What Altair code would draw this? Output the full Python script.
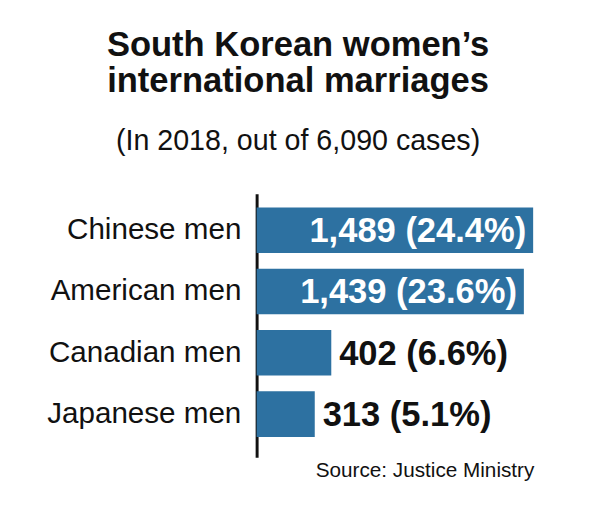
import altair as alt
import pandas as pd

categories = ["Chinese men", "American men", "Canadian men", "Japanese men"]
counts = [1489, 1439, 402, 313]
shares = ["24.4%", "23.6%", "6.6%", "5.1%"]

df = pd.DataFrame({
    "group": categories,
    "count": counts,
    "share": shares,
})
df["label"] = [f"{c:,} ({s})" for c, s in zip(counts, shares)]
df["inside"] = df["count"] > 1000

FONT = "Liberation Sans"
BLUE = "#2d71a1"

y_enc = alt.Y(
    "group:N",
    sort=categories,
    scale=alt.Scale(paddingInner=0.257, paddingOuter=0.277, align=0.4),
    axis=alt.Axis(
        title=None,
        ticks=False,
        labelFontSize=30,
        labelFont=FONT,
        labelColor="#111111",
        labelPadding=16,
        domainColor="#111111",
        domainWidth=3,
        labelLimit=400,
    ),
)

x_scale = alt.Scale(domain=[0, 1700], nice=False, zero=True)

bars = alt.Chart(df).mark_bar(color=BLUE).encode(
    x=alt.X(
        "count:Q",
        scale=x_scale,
        axis=alt.Axis(
            title="Source: Justice Ministry",
            labels=False,
            ticks=False,
            domain=False,
            grid=False,
            titleFont=FONT,
            titleFontSize=21,
            titleFontWeight="normal",
            titleColor="#111111",
            titleAlign="right",
            titleBaseline="alphabetic",
            titleX=281,
            titleY=19,
        ),
    ),
    y=y_enc,
)

inside_text = alt.Chart(df).transform_filter("datum.inside").mark_text(
    align="right", baseline="middle", dx=-7, dy=1, fontSize=35,
    fontWeight="bold", font=FONT, color="white",
).encode(x=alt.X("count:Q", scale=x_scale), y=alt.Y("group:N", sort=categories), text="label:N")

outside_text = alt.Chart(df).transform_filter("!datum.inside").mark_text(
    align="left", baseline="middle", dx=8, dy=1, fontSize=35,
    fontWeight="bold", font=FONT, color="#111111",
).encode(x=alt.X("count:Q", scale=x_scale), y=alt.Y("group:N", sort=categories), text="label:N")

chart = alt.layer(bars, inside_text, outside_text).properties(
    width=320,
    height=267,
    background="white",
    padding={"left": 252, "top": 185, "right": 25, "bottom": 45},
    autosize=alt.AutoSizeParams(type="none"),
    title=alt.TitleParams(
        text=["South Korean women\u2019s", "international marriages"],
        subtitle="(In 2018, out of 6,090 cases)",
        font=FONT,
        fontSize=35,
        fontWeight="bold",
        color="#111111",
        lineHeight=37,
        subtitleFont=FONT,
        subtitleFontSize=29,
        subtitleColor="#111111",
        subtitlePadding=29,
        anchor="middle",
        frame="group",
        dx=-118,
        offset=38,
    ),
).configure_view(strokeWidth=0, stroke=None)

chart.save("out.html", embed_options={"renderer": "svg", "actions": False})
